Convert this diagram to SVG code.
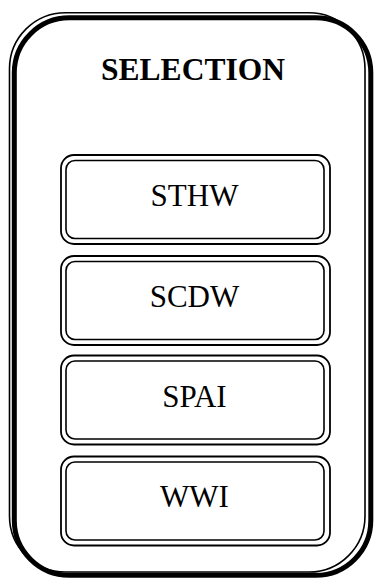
<svg xmlns="http://www.w3.org/2000/svg" width="376" height="578" viewBox="0 0 376 578">
<style>
.frame-thin{fill:none;stroke:#000;stroke-width:1.6}
.frame-thick{fill:none;stroke:#000;stroke-width:5}
.box-o{fill:none;stroke:#000;stroke-width:1.8}
.box-i{fill:none;stroke:#000;stroke-width:1.6}
.lbl{font-family:"Liberation Serif","Times New Roman",serif;font-size:31px;fill:#000;text-anchor:middle}
.title{font-family:"Liberation Serif","Times New Roman",serif;font-size:31.5px;font-weight:bold;fill:#000;text-anchor:middle}
</style>
<rect width="376" height="578" fill="#fff"/>
<g id="frame">
<rect class="frame-thick" x="14.3" y="17.8" width="356.5" height="557.5" rx="55" ry="55"/>
<rect class="frame-thin" x="9.5" y="12.7" width="355.5" height="559.3" rx="56" ry="56"/>
<text class="title" x="193" y="80">SELECTION</text>
</g>
<g id="connectors"></g>
<g id="n-sthw">
<rect class="box-o" x="61" y="155" width="269" height="89" rx="13"/>
<rect class="box-i" x="66" y="160.5" width="258" height="78" rx="9"/>
<text class="lbl" x="194.5" y="206">STHW</text>
</g>
<g id="n-scdw">
<rect class="box-o" x="61" y="256" width="269" height="89" rx="13"/>
<rect class="box-i" x="66" y="261.5" width="258" height="78" rx="9"/>
<text class="lbl" x="194.5" y="306.7">SCDW</text>
</g>
<g id="n-spai">
<rect class="box-o" x="61" y="355.5" width="269" height="89" rx="13"/>
<rect class="box-i" x="66" y="361" width="258" height="78" rx="9"/>
<text class="lbl" x="194.5" y="406.7">SPAI</text>
</g>
<g id="n-wwi">
<rect class="box-o" x="61" y="456.5" width="269" height="89" rx="13"/>
<rect class="box-i" x="66" y="462" width="258" height="78" rx="9"/>
<text class="lbl" x="194.5" y="506.7">WWI</text>
</g>
</svg>
